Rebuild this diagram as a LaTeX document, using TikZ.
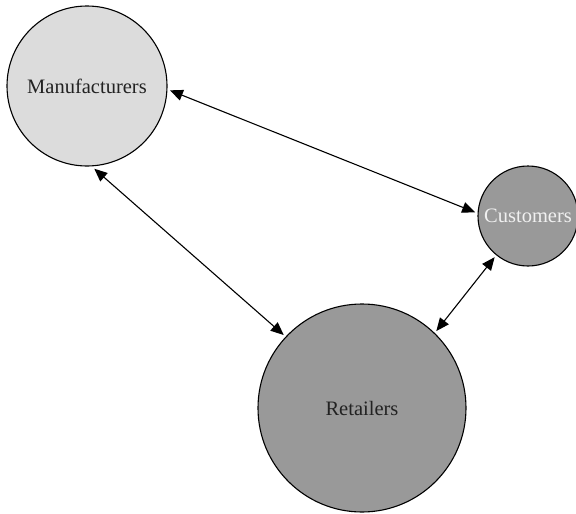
\documentclass[tikz,border=0pt]{standalone}
\usepackage{fontspec}
\setmainfont{Liberation Serif}
\usetikzlibrary{arrows.meta}
\definecolor{lightfill}{HTML}{DCDCDC}
\definecolor{darkfill}{HTML}{999999}
\definecolor{txtdark}{HTML}{222222}
\definecolor{txtlight}{HTML}{F0F0F0}
\begin{document}
\begin{tikzpicture}[x=1pt,y=-1pt,
  ent/.style={circle,draw=black,line width=1.1pt,inner sep=0pt,outer sep=3pt,
    font=\fontsize{20.5}{22}\selectfont,text=txtdark},
  link/.style={line width=1.1pt,{Triangle[length=13pt,width=11pt]}-{Triangle[length=13pt,width=11pt]}}]
\useasboundingbox (0,0) rectangle (576,514);
\node[ent,fill=lightfill,minimum size=160pt] (m) at (87,86) {Manufacturers};
\node[ent,fill=darkfill,minimum size=100pt,text=txtlight] (c) at (528,216) {Customers};
\node[ent,fill=darkfill,minimum size=208pt] (r) at (362,408) {Retailers};
\draw[link] (m.-3) -- (c.176.5);
\draw[link] (m.-85) -- (r.137);
\draw[link] (c.231) -- (r.46);
\end{tikzpicture}
\end{document}
